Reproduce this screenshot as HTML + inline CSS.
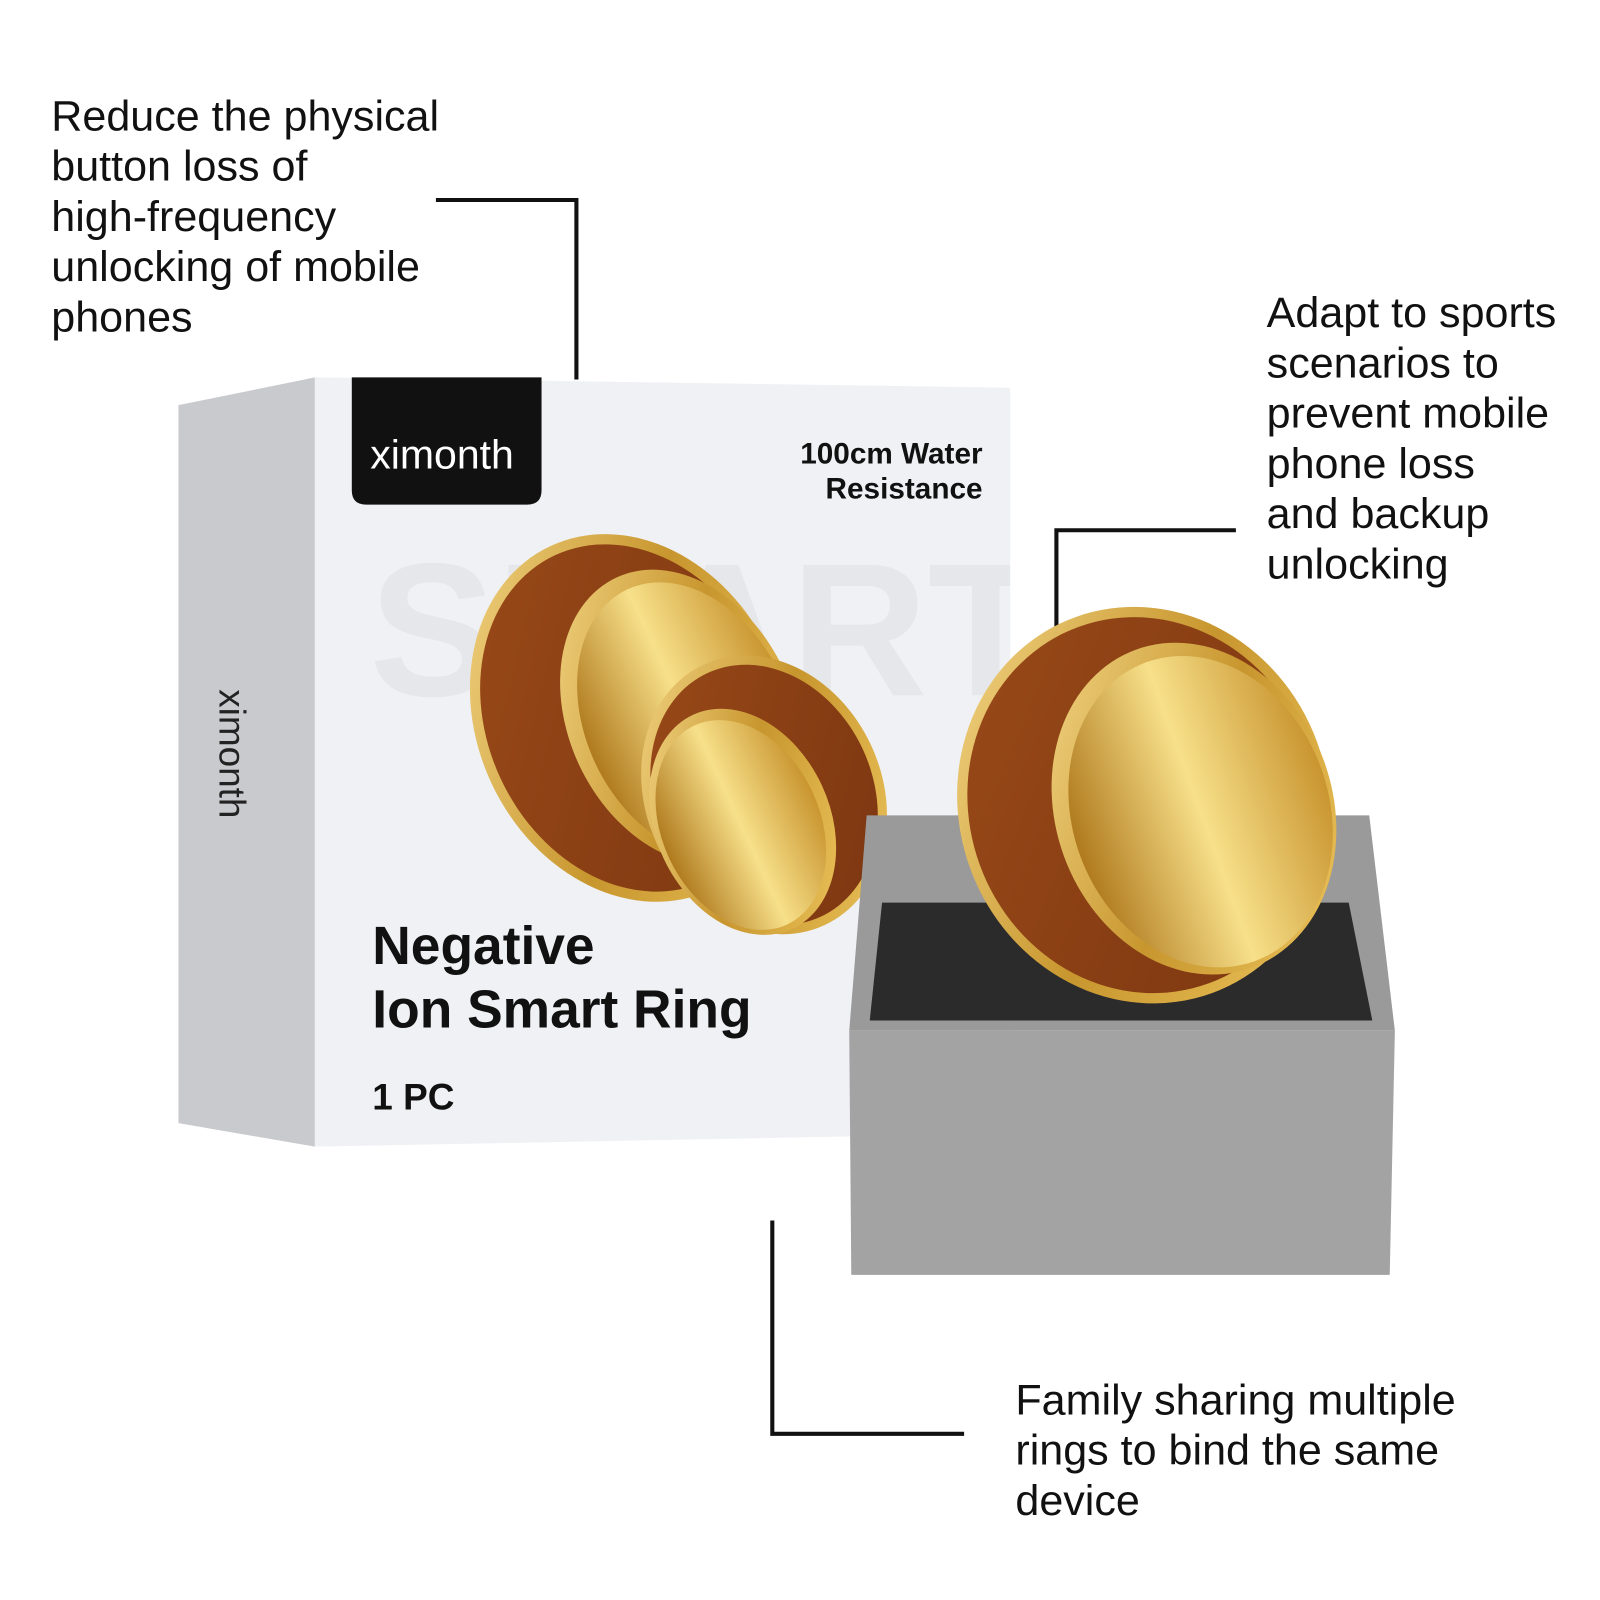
<!DOCTYPE html>
<html><head><meta charset="utf-8"><style>html,body{margin:0;padding:0;background:#fff}svg{display:block}</style></head>
<body>
<svg width="1600" height="1600" viewBox="0 0 1560 1560" xmlns="http://www.w3.org/2000/svg" font-family="'Liberation Sans', sans-serif">
<defs>
<linearGradient id="gold" x1="0" y1="0" x2="1" y2="1"><stop offset="0" stop-color="#f5d98a"/><stop offset="0.5" stop-color="#c8962e"/><stop offset="1" stop-color="#f0c860"/></linearGradient>
<linearGradient id="inner" x1="0" y1="0" x2="1" y2="0"><stop offset="0" stop-color="#b07a1e"/><stop offset="0.5" stop-color="#f7e08a"/><stop offset="1" stop-color="#c99530"/></linearGradient>
<linearGradient id="brown" x1="0" y1="0" x2="1" y2="1"><stop offset="0" stop-color="#9a4a18"/><stop offset="1" stop-color="#7a3510"/></linearGradient>
<clipPath id="face"><polygon points="307,368 985,378 985,1105 307,1118"/></clipPath>
</defs>
<g font-size="42" fill="#111">
<text x="50" y="127">Reduce the physical</text>
<text x="50" y="176">button loss of</text>
<text x="50" y="225">high-frequency</text>
<text x="50" y="274">unlocking of mobile</text>
<text x="50" y="323">phones</text>
<text x="1235" y="319">Adapt to sports</text>
<text x="1235" y="368">scenarios to</text>
<text x="1235" y="417">prevent mobile</text>
<text x="1235" y="466">phone loss</text>
<text x="1235" y="515">and backup</text>
<text x="1235" y="564">unlocking</text>
<text x="990" y="1379">Family sharing multiple</text>
<text x="990" y="1428">rings to bind the same</text>
<text x="990" y="1477">device</text>
</g>
<g fill="none" stroke="#111" stroke-width="4">
<polyline points="425,195 562,195 562,370"/>
<polyline points="1205,517 1030,517 1030,640"/>
<polyline points="753,1190 753,1398 940,1398"/>
</g>
<polygon points="174,395 307,368 307,1118 174,1095" fill="#c9cacd"/>
<polygon points="307,368 985,378 985,1105 307,1118" fill="#eff1f4"/>
<text x="360" y="678" font-size="185" fill="#e6e7ea" font-weight="bold" clip-path="url(#face)">SMART</text>
<path d="M343,368 H528 V478 Q528,492 514,492 H357 Q343,492 343,478 Z" fill="#111"/>
<text x="361" y="457" font-size="40" fill="#fff">ximonth</text>
<text transform="translate(214,672) rotate(90)" font-size="36" fill="#222">ximonth</text>
<text x="958" y="452" font-size="29" font-weight="bold" text-anchor="end" fill="#111">100cm Water</text>
<text x="958" y="486" font-size="29" font-weight="bold" text-anchor="end" fill="#111">Resistance</text>
<text x="363" y="940" font-size="52" font-weight="bold" fill="#111">Negative</text>
<text x="363" y="1002" font-size="52" font-weight="bold" fill="#111">Ion Smart Ring</text>
<text x="363" y="1082" font-size="36" font-weight="bold" fill="#111">1 PC</text>
<g transform="rotate(-25 615 700)">
<ellipse cx="615" cy="700" rx="150" ry="185" fill="url(#gold)"/>
<ellipse cx="615" cy="700" rx="140" ry="175" fill="url(#brown)"/>
<ellipse cx="660" cy="720" rx="110" ry="150" fill="url(#gold)"/>
<ellipse cx="665" cy="725" rx="100" ry="140" fill="url(#inner)"/>
</g>
<g transform="rotate(-25 745 775)">
<ellipse cx="745" cy="775" rx="115" ry="140" fill="url(#gold)"/>
<ellipse cx="745" cy="775" rx="106" ry="131" fill="url(#brown)"/>
<ellipse cx="715" cy="790" rx="85" ry="115" fill="url(#gold)"/>
<ellipse cx="712" cy="792" rx="77" ry="107" fill="url(#inner)"/>
</g>
<polygon points="845,795 1335,795 1360,1005 828,1005" fill="#9a9a9a"/>
<polygon points="860,880 1315,880 1338,995 848,995" fill="#2b2b2b"/>
<polygon points="828,1005 1360,1005 1355,1243 830,1243" fill="#a3a3a3"/>
<g transform="rotate(-20 1115 785)">
<ellipse cx="1115" cy="785" rx="180" ry="195" fill="url(#gold)"/>
<ellipse cx="1115" cy="785" rx="170" ry="185" fill="url(#brown)"/>
<ellipse cx="1160" cy="805" rx="135" ry="165" fill="url(#gold)"/>
<ellipse cx="1165" cy="810" rx="125" ry="155" fill="url(#inner)"/>
</g>
</svg>
</body></html>
